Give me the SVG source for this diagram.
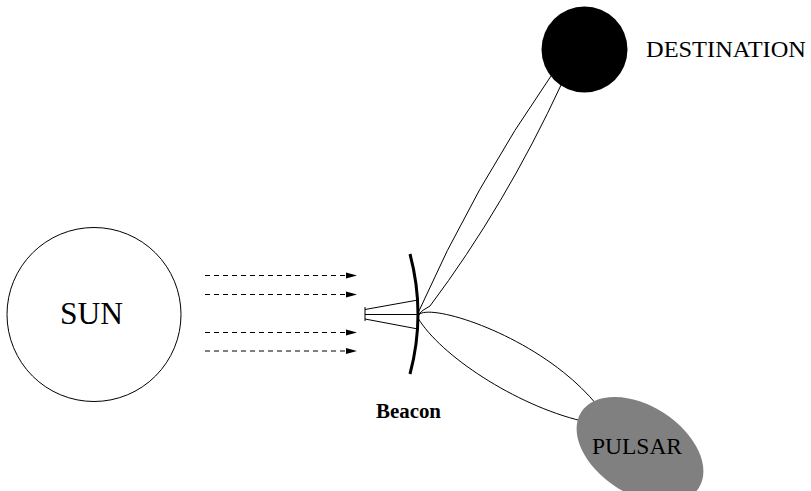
<svg xmlns="http://www.w3.org/2000/svg" width="811" height="491" viewBox="0 0 811 491">
<style>
.thin{fill:none;stroke:#000;stroke-width:1}
.ray{fill:none;stroke:#000;stroke-width:1;stroke-dasharray:5 4}
.lbl{font-family:"Liberation Serif","Times New Roman",serif;fill:#000}
</style>
<defs>
<marker id="ah" markerUnits="userSpaceOnUse" markerWidth="12" markerHeight="8" refX="11" refY="3.5" orient="auto">
<path d="M0,0.5 L11,3.5 L0,6.5 z" fill="#000"/>
</marker>
</defs>
<rect width="811" height="491" fill="#fff"/>
<g id="connectors">
<line class="ray" x1="205" y1="275.5" x2="357" y2="275.5" marker-end="url(#ah)"/>
<line class="ray" x1="205" y1="294.5" x2="357" y2="294.5" marker-end="url(#ah)"/>
<line class="ray" x1="205" y1="332.5" x2="357" y2="332.5" marker-end="url(#ah)"/>
<line class="ray" x1="205" y1="351" x2="357" y2="351" marker-end="url(#ah)"/>
<g id="emitter">
<line class="thin" x1="365" y1="307" x2="365" y2="321"/>
<line class="thin" x1="365" y1="309.5" x2="418" y2="300"/>
<line class="thin" x1="365" y1="314.5" x2="418" y2="314.5"/>
<line class="thin" x1="365" y1="319" x2="418" y2="329"/>
</g>
<path id="lobe-destination" class="thin" d="M418,313 Q474,186 553,73 M562,83 Q505,206 430,306 Q422,310 418,315"/>
<path id="lobe-pulsar" class="thin" d="M418,316 C424,300 540,335 597,405 M418,318 C440,355 515,405 582,421"/>
</g>
<g id="sun">
<circle cx="94" cy="314.5" r="87" fill="none" stroke="#000" stroke-width="1"/>
<text class="lbl" x="91.5" y="324" font-size="31.5" text-anchor="middle">SUN</text>
</g>
<g id="beacon">
<path d="M410,254 Q426,314 410,374" fill="none" stroke="#000" stroke-width="3"/>
<text class="lbl" x="376" y="418" font-size="20.5" font-weight="bold" textLength="65" lengthAdjust="spacingAndGlyphs">Beacon</text>
</g>
<g id="destination">
<circle cx="584.5" cy="49.5" r="43" fill="#000"/>
<text class="lbl" x="646" y="56.5" font-size="22.5" textLength="160" lengthAdjust="spacingAndGlyphs">DESTINATION</text>
</g>
<g id="pulsar">
<ellipse cx="640" cy="450" rx="70" ry="44" transform="rotate(33 640 450)" fill="#808080"/>
<text class="lbl" x="637" y="454" font-size="23.5" text-anchor="middle">PULSAR</text>
</g>
</svg>
